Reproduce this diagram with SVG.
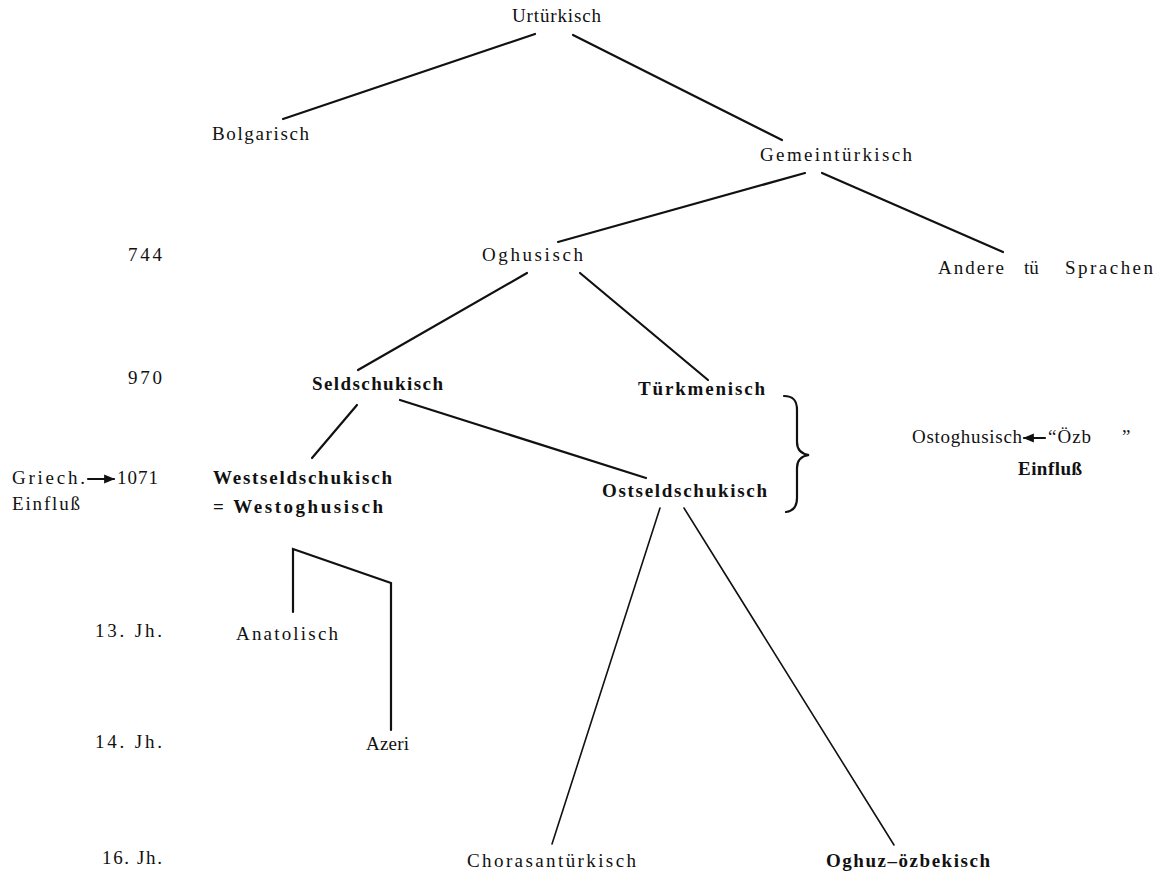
<svg xmlns="http://www.w3.org/2000/svg" width="1159" height="878" viewBox="0 0 1159 878">
<defs>
<style>
text{font-family:"Liberation Serif","DejaVu Serif",serif;font-size:19px;fill:#111}
.b{font-weight:bold}
.ln{stroke:#111;stroke-width:2.2;fill:none;stroke-linecap:round}
.th{stroke:#111;stroke-width:1.6;fill:none;stroke-linecap:round}
</style>
<marker id="ah" viewBox="0 0 10 10" refX="9" refY="5" markerWidth="5" markerHeight="5" orient="auto-start-reverse">
<path d="M0,1 L10,5 L0,9 Z" fill="#111"/>
</marker>
</defs>
<rect width="1159" height="878" fill="#fff"/>
<g id="connectors">
<line class="ln" x1="535" y1="34" x2="283" y2="119"/>
<line class="ln" x1="573" y1="35" x2="782" y2="140"/>
<line class="ln" x1="805" y1="173" x2="558" y2="242"/>
<line class="ln" x1="822" y1="173" x2="1003" y2="252"/>
<line class="ln" x1="527" y1="273" x2="358" y2="370"/>
<line class="ln" x1="580" y1="273" x2="708" y2="380"/>
<line class="ln" x1="357" y1="405" x2="312" y2="458"/>
<line class="ln" x1="400" y1="400" x2="646" y2="478"/>
<polyline class="ln" points="293,612 293,549 391,583 391,730"/>
<line class="th" x1="660" y1="508" x2="552" y2="844"/>
<line class="th" x1="684" y1="508" x2="894" y2="845"/>
<path class="ln" d="M784,396 C793,396 797,400 797,410 L797,442 C797,450 802,454 809,455 C802,456 797,460 797,468 L797,498 C797,507 793,511 786,512"/>
<line class="ln" x1="88" y1="479" x2="114" y2="479" marker-end="url(#ah)"/>
<line class="ln" x1="1045" y1="438" x2="1024" y2="438" marker-end="url(#ah)"/>
</g>
<g id="n-urtuerkisch"><text x="512" y="22" textLength="89" lengthAdjust="spacing">Urtürkisch</text></g>
<g id="n-bolgarisch"><text x="212" y="140" textLength="97" lengthAdjust="spacing">Bolgarisch</text></g>
<g id="n-gemeintuerkisch"><text x="760" y="161" textLength="152" lengthAdjust="spacing">Gemeintürkisch</text></g>
<g id="n-oghusisch"><text x="482" y="261" textLength="101" lengthAdjust="spacing">Oghusisch</text></g>
<g id="n-andere"><text x="938" y="274" textLength="66" lengthAdjust="spacing">Andere</text><text x="1024" y="274">tü</text><text x="1065" y="274" textLength="88" lengthAdjust="spacing">Sprachen</text></g>
<g id="n-seldschukisch"><text class="b" x="312" y="390" textLength="131" lengthAdjust="spacing">Seldschukisch</text></g>
<g id="n-tuerkmenisch"><text class="b" x="638" y="395" textLength="127" lengthAdjust="spacing">Türkmenisch</text></g>
<g id="n-ostoghusisch"><text x="912" y="443" textLength="110" lengthAdjust="spacing">Ostoghusisch</text><text x="1048" y="443" letter-spacing="1">“Özb</text><text x="1122" y="443">”</text><text class="b" x="1018" y="475" textLength="64" lengthAdjust="spacing">Einfluß</text></g>
<g id="n-griech"><text x="12" y="484" textLength="73" lengthAdjust="spacing">Griech.</text><text x="117" y="484" textLength="41" lengthAdjust="spacing">1071</text><text x="12" y="510" textLength="68" lengthAdjust="spacing">Einfluß</text></g>
<g id="n-westseldschukisch"><text class="b" x="213" y="484" textLength="179" lengthAdjust="spacing">Westseldschukisch</text><text class="b" x="213" y="513" textLength="170" lengthAdjust="spacing">= Westoghusisch</text></g>
<g id="n-ostseldschukisch"><text class="b" x="602" y="497" textLength="165" lengthAdjust="spacing">Ostseldschukisch</text></g>
<g id="n-anatolisch"><text x="236" y="640" textLength="102" lengthAdjust="spacing">Anatolisch</text></g>
<g id="n-azeri"><text x="366" y="750" textLength="43" lengthAdjust="spacing">Azeri</text></g>
<g id="n-chorasan"><text x="467" y="867" textLength="169" lengthAdjust="spacing">Chorasantürkisch</text></g>
<g id="n-oghuz"><text class="b" x="826" y="867" textLength="164" lengthAdjust="spacing">Oghuz–özbekisch</text></g>
<g id="dates">
<text x="128" y="261" textLength="34" lengthAdjust="spacing">744</text>
<text x="128" y="384" textLength="34" lengthAdjust="spacing">970</text>
<text x="95" y="637" textLength="67" lengthAdjust="spacing">13. Jh.</text>
<text x="95" y="748" textLength="67" lengthAdjust="spacing">14. Jh.</text>
<text x="102" y="864" textLength="60" lengthAdjust="spacing">16. Jh.</text>
</g>
</svg>
